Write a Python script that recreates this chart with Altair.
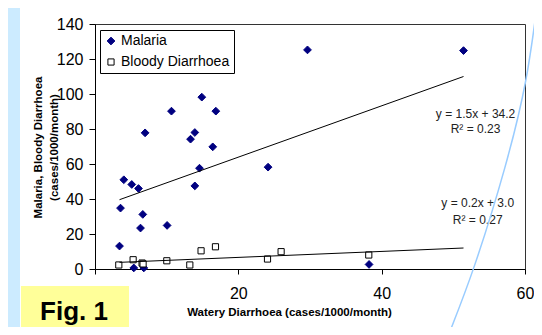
import altair as alt
import pandas as pd

# ---- data ----
malaria_x = [14.90, 10.67, 16.86, 6.99, 13.93, 13.33, 16.43, 14.58, 4.02, 5.13, 6.07, 13.93,
             3.56, 6.67, 6.35, 10.06, 3.42, 5.41, 6.81, 24.15, 38.24, 29.65, 51.42]
malaria_y = [98.2, 90.2, 90.2, 77.8, 78.0, 74.2, 69.8, 57.6, 51.0, 48.3, 46.0, 47.5,
             34.8, 31.2, 23.4, 24.9, 13.1, 0.6, 0.6, 58.2, 2.6, 125.2, 124.8]
bloody_x = [3.32, 5.32, 6.57, 6.71, 10.02, 13.23, 14.80, 16.81, 24.07, 25.97, 38.20]
bloody_y = [2.3, 5.3, 3.4, 2.9, 4.7, 2.3, 10.4, 12.7, 5.7, 9.9, 8.0]

series_names = ["Malaria", "Bloody Diarrhoea"]

# trendline end points
trend_malaria_x = [3.42, 51.42]
trend_malaria_y = [39.6, 110.0]
trend_bloody_x = [3.42, 51.42]
trend_bloody_y = [3.8, 12.0]

# equation labels
eq_text = ["y = 1.5x + 34.2", "R\u00b2 = 0.23", "y = 0.2x + 3.0", "R\u00b2 = 0.27"]
eq_x = [53.1, 53.1, 53.4, 53.4]
eq_y = [88.5, 79.9, 37.7, 28.1]

# decorative blue arc
arc_x = [61.78, 60.12, 57.18, 53.0, 49.35]
arc_y = [153.7, 108.0, 57.8, 2.5, -37.5]

x_ticks = [0, 20, 40, 60]
y_ticks = [0, 20, 40, 60, 80, 100, 120, 140]

FONT = "Arial, Liberation Sans"

pts = pd.DataFrame(
    {"x": malaria_x + bloody_x,
     "y": malaria_y + bloody_y,
     "series": ["Malaria"] * len(malaria_x) + ["Bloody Diarrhoea"] * len(bloody_x)}
)
trend = pd.DataFrame(
    {"x": trend_malaria_x + trend_bloody_x,
     "y": trend_malaria_y + trend_bloody_y,
     "series": ["Malaria"] * 2 + ["Bloody Diarrhoea"] * 2}
)
eqs = pd.DataFrame({"x": eq_x, "y": eq_y, "t": eq_text})
arc = pd.DataFrame({"x": arc_x, "y": arc_y, "o": list(range(len(arc_x)))})
one = pd.DataFrame({"a": [0]})

xscale = alt.Scale(domain=[0, 60], nice=False, zero=False)
yscale = alt.Scale(domain=[0, 140], nice=False, zero=False)

xaxis = alt.Axis(
    values=x_ticks, labelExpr="datum.value == 0 ? '' : datum.label",
    title="Watery Diarrhoea (cases/1000/month)", titleX=194, titleY=46,
    titleBaseline="alphabetic", titleAlign="center", titleAnchor="start",
    tickSize=5, labelPadding=11, grid=False, labelOverlap=False, labelFlush=False,
)
yaxis = alt.Axis(
    values=y_ticks, title=["Malaria, Bloody Diarrhoea", "(cases/1000/month)"],
    titleX=-57, titleY=123, titleBaseline="middle", titleAlign="center", titleAngle=270,
    titleAnchor="start", titleLineHeight=16, tickCount=8,
    tickSize=6, labelPadding=6, grid=False, labelOverlap=False, labelFlush=False,
)


def X():
    return alt.X("x:Q", scale=xscale, axis=xaxis)


def Y():
    return alt.Y("y:Q", scale=yscale, axis=yaxis)


strip = alt.Chart(one).mark_rect(color="#CCEBFF").encode(
    x=alt.value(-88), x2=alt.value(-75), y=alt.value(-20), y2=alt.value(320)
)
figbox = alt.Chart(one).mark_rect(color="#FFFF99").encode(
    x=alt.value(-74), x2=alt.value(34), y=alt.value(262), y2=alt.value(320)
)
figtxt = alt.Chart(one).mark_text(
    text="Fig. 1", font=FONT, fontSize=26, fontWeight="bold", color="black",
    align="center", baseline="alphabetic"
).encode(x=alt.value(-21), y=alt.value(296))

scatter = alt.Chart(pts).mark_point(filled=True, opacity=1, strokeWidth=1).encode(
    x=X(),
    y=Y(),
    shape=alt.Shape("series:N", scale=alt.Scale(domain=series_names, range=["diamond", "square"]), title=None),
    fill=alt.Fill("series:N", scale=alt.Scale(domain=series_names, range=["#000080", "white"]), title=None),
    stroke=alt.Stroke("series:N", scale=alt.Scale(domain=series_names, range=["#000080", "black"]), title=None),
    size=alt.Size("series:N", scale=alt.Scale(domain=series_names, range=[60, 38]), title=None),
    order=alt.Order("series:N", sort="descending"),
)

lines = alt.Chart(trend).mark_line(color="black", strokeWidth=1).encode(
    x=X(), y=Y(), detail="series:N"
)

eqt = alt.Chart(eqs).mark_text(font=FONT, fontSize=12, color="#222", align="center", baseline="middle").encode(
    x=X(), y=Y(), text="t:N"
)

arcl = alt.Chart(arc).mark_line(color="#99CCFF", strokeWidth=1.5, interpolate="natural", clip=False).encode(
    x=X(), y=Y(), order="o:Q"
)

chart = alt.layer(strip, figbox, figtxt, scatter, lines, eqt, arcl).properties(
    width=430, height=245,
    autosize=alt.AutoSizeParams(type="none"),
    padding={"left": 87, "top": 16, "right": 9, "bottom": 58},
    background="white",
).configure_view(
    stroke="#333333", strokeWidth=1
).configure_axis(
    labelFont=FONT, labelFontSize=16, labelColor="black",
    titleFont=FONT, titleFontSize=11.5, titleFontWeight="bold", titleColor="black",
    domainColor="black", tickColor="black", domainWidth=1, tickWidth=1,
    labelOverlap=False,
).configure_legend(
    orient="none", legendX=5, legendY=6, padding=4, strokeColor="black", fillColor="white",
    labelFont=FONT, labelFontSize=14, labelColor="black", rowPadding=7, labelOffset=3,
    cornerRadius=0, symbolStrokeWidth=1,
)

chart.save("out.html", embed_options={"renderer": "svg", "actions": False})
